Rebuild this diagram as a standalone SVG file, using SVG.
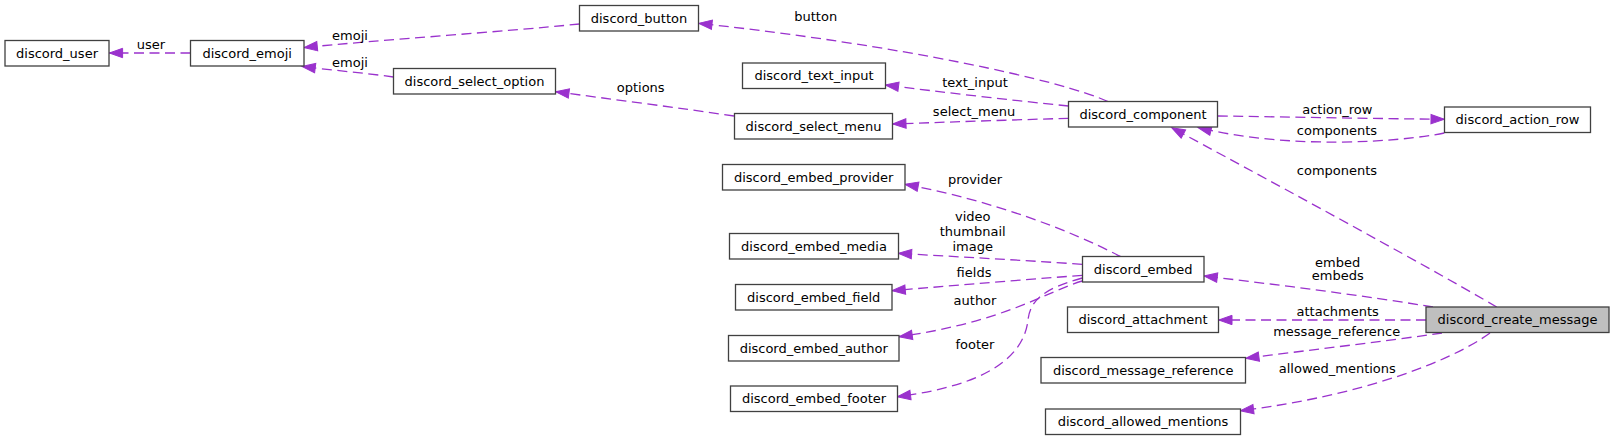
<svg xmlns="http://www.w3.org/2000/svg" width="1615" height="440" viewBox="0 0 1615 440">
<defs>
<marker id="arr" markerUnits="userSpaceOnUse" markerWidth="16" markerHeight="12" refX="13.3" refY="0" orient="auto" viewBox="0 -6 16 12" overflow="visible">
<path d="M0,-4.7 L13.3,0 L0,4.7 Z" fill="#9a32cd" stroke="#9a32cd" stroke-width="1"/>
</marker>
<style>
.n rect{fill:#fff;stroke:#404040;stroke-width:1.3}
.n.root rect{fill:#bfbfbf}
text{font-family:"DejaVu Sans","Liberation Sans",sans-serif;font-size:13px;fill:#000}
.n text{text-anchor:middle}
.e path{fill:none;stroke:#9a32cd;stroke-width:1.3;stroke-dasharray:10,5.5;marker-end:url(#arr)}
.e text{text-anchor:middle}
</style>
</defs>
<rect width="1615" height="440" fill="#fff"/>
<g id="edges" class="e">
<path d="M190.5,53 L109.3,53"/>
<text x="151" y="48.8">user</text>
<path d="M579.5,24 C500,32 380,40 304,47.5"/>
<text x="350" y="39.5">emoji</text>
<path d="M393.5,77 C365,73 330,70 302,66.5"/>
<text x="350" y="67.2">emoji</text>
<path d="M734,116 C680,108 610,99 555.7,91.7"/>
<text x="640.7" y="92.2">options</text>
<path d="M1108,101.5 C1060,80 900,45 698.7,23.3"/>
<text x="815.7" y="20.5">button</text>
<path d="M1068.5,106 C1010,100 940,92 885.3,85"/>
<text x="975" y="86.5">text_input</text>
<path d="M1068.5,118.3 C1010,120 950,122 892.7,124"/>
<text x="974" y="116.2">select_menu</text>
<path d="M1218,116 C1290,117 1370,118.5 1444.3,119.3"/>
<text x="1337.3" y="113.5">action_row</text>
<path d="M1444.3,133 C1400,142 1290,150 1198,127.5"/>
<text x="1337" y="135.2">components</text>
<path d="M1496.7,307 C1420,262 1250,170 1171.7,127.7"/>
<text x="1337" y="175.2">components</text>
<path d="M1433,307 C1360,295 1280,285 1204,276"/>
<text x="1337.7" y="266.8">embed</text>
<text x="1337.7" y="280.2">embeds</text>
<path d="M1426,320 L1218.7,320"/>
<text x="1337.7" y="315.5">attachments</text>
<path d="M1442,333 C1380,342 1310,350 1245.7,358.3"/>
<text x="1336.7" y="335.5">message_reference</text>
<path d="M1490,333 C1450,362 1360,396 1240.3,410.7"/>
<text x="1337.3" y="372.8">allowed_mentions</text>
<path d="M1120.7,256.7 C1070,230 990,200 905,184.3"/>
<text x="975" y="183.8">provider</text>
<path d="M1082.3,264.3 C1020,260 960,257 898.3,253.3"/>
<text x="972.7" y="221.2">video</text>
<text x="972.7" y="236.2">thumbnail</text>
<text x="972.7" y="251.2">image</text>
<path d="M1082.3,275.3 C1020,280 960,285 892,290.7"/>
<text x="974" y="276.8">fields</text>
<path d="M1082.3,281 C1050,290 1005,322 899,336.7"/>
<text x="975" y="305.2">author</text>
<path d="M1082.3,278 C1045,288 1030,300 1028,320 C1024,355 990,385 897.3,396.7"/>
<text x="975" y="348.5">footer</text>
</g>
<g id="discord_user" class="n"><rect x="5" y="40.5" width="104" height="25.5"/><text x="57" y="57.7">discord_user</text></g>
<g id="discord_emoji" class="n"><rect x="190.5" y="40.5" width="113.5" height="25.5"/><text x="247.2" y="57.7">discord_emoji</text></g>
<g id="discord_select_option" class="n"><rect x="393.5" y="68.5" width="162" height="25.5"/><text x="474.5" y="85.7">discord_select_option</text></g>
<g id="discord_button" class="n"><rect x="579.5" y="5.5" width="119" height="25.5"/><text x="639" y="22.7">discord_button</text></g>
<g id="discord_text_input" class="n"><rect x="742.5" y="63" width="143" height="25.5"/><text x="814" y="80.2">discord_text_input</text></g>
<g id="discord_select_menu" class="n"><rect x="734.5" y="113.5" width="158" height="25.5"/><text x="813.5" y="130.7">discord_select_menu</text></g>
<g id="discord_component" class="n"><rect x="1068.5" y="101.5" width="149" height="25.5"/><text x="1143" y="118.7">discord_component</text></g>
<g id="discord_action_row" class="n"><rect x="1444.5" y="107" width="146" height="25.5"/><text x="1517.5" y="124.2">discord_action_row</text></g>
<g id="discord_embed_provider" class="n"><rect x="722.5" y="164.5" width="182.5" height="25.5"/><text x="813.7" y="181.7">discord_embed_provider</text></g>
<g id="discord_embed_media" class="n"><rect x="729.5" y="233.5" width="169" height="25.5"/><text x="814" y="250.7">discord_embed_media</text></g>
<g id="discord_embed_field" class="n"><rect x="735.5" y="284.5" width="156.5" height="25.5"/><text x="813.7" y="301.7">discord_embed_field</text></g>
<g id="discord_embed_author" class="n"><rect x="728.5" y="335.5" width="170.5" height="25.5"/><text x="813.7" y="352.7">discord_embed_author</text></g>
<g id="discord_embed_footer" class="n"><rect x="730.5" y="386" width="167" height="25.5"/><text x="814" y="403.2">discord_embed_footer</text></g>
<g id="discord_embed" class="n"><rect x="1082.5" y="256.5" width="121.5" height="25.5"/><text x="1143.2" y="273.7">discord_embed</text></g>
<g id="discord_attachment" class="n"><rect x="1067.5" y="307" width="151" height="25.5"/><text x="1143" y="324.2">discord_attachment</text></g>
<g id="discord_message_reference" class="n"><rect x="1041" y="357.5" width="204.5" height="25.5"/><text x="1143.2" y="374.7">discord_message_reference</text></g>
<g id="discord_allowed_mentions" class="n"><rect x="1045.5" y="409" width="195" height="25.5"/><text x="1143" y="426.2">discord_allowed_mentions</text></g>
<g id="discord_create_message" class="n root"><rect x="1426" y="307" width="183" height="25.5"/><text x="1517.5" y="324.2">discord_create_message</text></g>
</svg>
